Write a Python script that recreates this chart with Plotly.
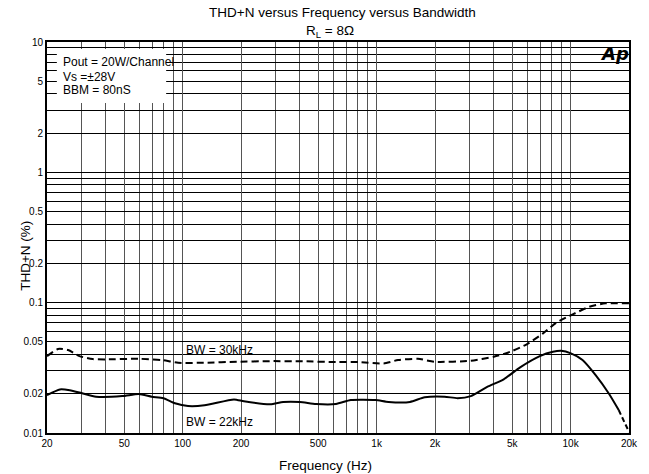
import plotly.graph_objects as go

# ---- measured data -------------------------------------------------------
# THD+N (%) versus frequency, measurement bandwidth 30 kHz
FREQ_BW30 = [20, 22.8, 25.7, 29.4, 34.4, 40.2, 59.4, 77.8, 94.9, 129.7, 191.6,
             282, 418, 617, 808, 1087, 1290, 1632, 1990, 3060, 4020, 4890,
             5940, 7210, 8430, 10260, 12470, 15140, 20000]
THDN_BW30 = [0.0389, 0.0441, 0.0433, 0.0389, 0.0369, 0.0367, 0.0371, 0.0363,
             0.0346, 0.0346, 0.0352, 0.0356, 0.0355, 0.0350, 0.0350, 0.0342,
             0.0363, 0.0371, 0.0352, 0.0358, 0.0385, 0.0420, 0.0479, 0.0581,
             0.0701, 0.0813, 0.0929, 0.0988, 0.0988]

# THD+N (%) versus frequency, measurement bandwidth 22 kHz
FREQ_BW22 = [20, 23.3, 26.2, 30.6, 35.8, 48.9, 59.4, 69.4, 79.6, 91.3, 106.6,
             129.7, 184, 207, 283, 330, 402, 487, 617, 736, 986, 1152, 1486,
             1770, 2240, 2616, 3060, 3716, 4520, 5494, 6938, 8110, 8940,
             10040, 11520, 13460, 15740, 17700]
THDN_BW22 = [0.0195, 0.0216, 0.0213, 0.0201, 0.0190, 0.0192, 0.0199, 0.0190,
             0.0185, 0.0169, 0.0161, 0.0163, 0.0181, 0.0175, 0.0166, 0.0173,
             0.0173, 0.0167, 0.0167, 0.0179, 0.0179, 0.0173, 0.0173, 0.0188,
             0.0190, 0.0185, 0.0192, 0.0226, 0.0258, 0.0319, 0.0389, 0.0420,
             0.0427, 0.0408, 0.0363, 0.0278, 0.0201, 0.0150]
# roll-off beyond the 22 kHz bandwidth edge (drawn dashed)
FREQ_BW22_TAIL = [17700, 20000]
THDN_BW22_TAIL = [0.0150, 0.0102]

# ---- axis ticks ----------------------------------------------------------
X_TICKS = [20, 50, 100, 200, 500, 1000, 2000, 5000, 10000, 20000]
X_TICK_LABELS = ["20", "50", "100", "200", "500", "1k", "2k", "5k", "10k", "20k"]
X_MINOR = [30, 40, 60, 70, 80, 90, 300, 400, 600, 700, 800, 900,
           3000, 4000, 6000, 7000, 8000, 9000]

Y_TICKS = [0.01, 0.02, 0.05, 0.1, 0.2, 0.5, 1, 2, 5, 10]
Y_TICK_LABELS = ["0.01", "0.02", "0.05", "0.1", "0.2", "0.5", "1", "2", "5", "10"]
Y_MINOR = [0.03, 0.04, 0.06, 0.07, 0.08, 0.09,
           0.3, 0.4, 0.6, 0.7, 0.8, 0.9,
           3, 4, 6, 7, 8, 9]

FONT = "Liberation Sans, Arial, sans-serif"

# ---- page geometry (pixels) -----------------------------------------------
W, H = 649, 474
ML, MR, MT, MB = 47, 11, 42, 41
PW, PH = W - ML - MR, H - MT - MB


def px(x):
    """horizontal page pixel -> paper fraction"""
    return (x - ML) / PW


def py(y):
    """vertical page pixel (from top) -> paper fraction"""
    return (H - MB - y) / PH


fig = go.Figure()

fig.add_trace(go.Scatter(x=FREQ_BW30, y=THDN_BW30, mode="lines",
                         line=dict(color="black", width=2, dash="7px,4px",
                                   shape="spline", smoothing=0.6),
                         hoverinfo="skip", showlegend=False))
fig.add_trace(go.Scatter(x=FREQ_BW22, y=THDN_BW22, mode="lines",
                         line=dict(color="black", width=2,
                                   shape="spline", smoothing=0.6),
                         hoverinfo="skip", showlegend=False))
fig.add_trace(go.Scatter(x=FREQ_BW22_TAIL, y=THDN_BW22_TAIL, mode="lines",
                         line=dict(color="black", width=2, dash="5px,3px"),
                         hoverinfo="skip", showlegend=False))

fig.update_xaxes(
    type="log", range=[1.30103, 4.30103],
    tickmode="array", tickvals=X_TICKS, ticktext=X_TICK_LABELS,
    showgrid=True, gridcolor="#555555", gridwidth=1,
    minor=dict(tickmode="array", tickvals=X_MINOR, showgrid=True,
               gridcolor="#555555", gridwidth=1, ticks=""),
    showline=True, linecolor="black", linewidth=2, mirror=True,
    ticks="", tickfont=dict(family=FONT, size=10, color="black"),
    zeroline=False, fixedrange=True,
)
fig.update_yaxes(
    type="log", range=[-2, 1],
    tickmode="array", tickvals=Y_TICKS, ticktext=Y_TICK_LABELS,
    showgrid=True, gridcolor="black", gridwidth=1,
    minor=dict(tickmode="array", tickvals=Y_MINOR, showgrid=True,
               gridcolor="black", gridwidth=1, ticks=""),
    showline=True, linecolor="black", linewidth=2, mirror=True,
    ticks="", tickfont=dict(family=FONT, size=10, color="black"),
    zeroline=False, fixedrange=True,
)

# white panel behind the operating conditions text
fig.add_shape(type="rect", xref="paper", yref="paper",
              x0=px(57), x1=px(168), y0=py(103), y1=py(49),
              fillcolor="white", line=dict(width=0), layer="above")

annotations = [
    dict(text="THD+N versus Frequency versus Bandwidth", x=px(347), y=py(13),
         xanchor="center", yanchor="middle", font=dict(size=13.5)),
    dict(text="R<sub>L</sub> = 8Ω", x=px(308), y=py(31),
         xanchor="left", yanchor="middle", font=dict(size=13.5)),
    dict(text="Pout = 20W/Channel", x=px(61), y=py(62),
         xanchor="left", yanchor="middle", font=dict(size=12)),
    dict(text="Vs =±28V", x=px(61), y=py(77),
         xanchor="left", yanchor="middle", font=dict(size=12)),
    dict(text="BBM = 80nS", x=px(61), y=py(90.5),
         xanchor="left", yanchor="middle", font=dict(size=12)),
    dict(text="BW = 30kHz", x=px(186), y=py(350),
         xanchor="left", yanchor="middle", font=dict(size=12)),
    dict(text="BW = 22kHz", x=px(186), y=py(422),
         xanchor="left", yanchor="middle", font=dict(size=12)),
    dict(text="<b><i>Ap</i></b>", x=px(640), y=py(53),
         xanchor="right", yanchor="middle",
         font=dict(size=18, family="DejaVu Sans, Arial")),
    dict(text="Frequency (Hz)", x=px(329.5), y=py(465),
         xanchor="center", yanchor="middle", font=dict(size=13.5)),
    dict(text="THD+N (%)", x=px(24.5), y=py(256), textangle=-90,
         xanchor="center", yanchor="middle", font=dict(size=13.5)),
]
for a in annotations:
    a.setdefault("xref", "paper")
    a.setdefault("yref", "paper")
    a["showarrow"] = False
    a["font"].setdefault("family", FONT)
    a["font"].setdefault("color", "black")
    fig.add_annotation(**a)

fig.update_layout(
    width=W, height=H,
    margin=dict(l=ML, r=MR, t=MT, b=MB, pad=0),
    paper_bgcolor="white", plot_bgcolor="white",
    font=dict(family=FONT, color="black"),
    showlegend=False,
)

fig.write_html("out.html", config={"displayModeBar": False})
